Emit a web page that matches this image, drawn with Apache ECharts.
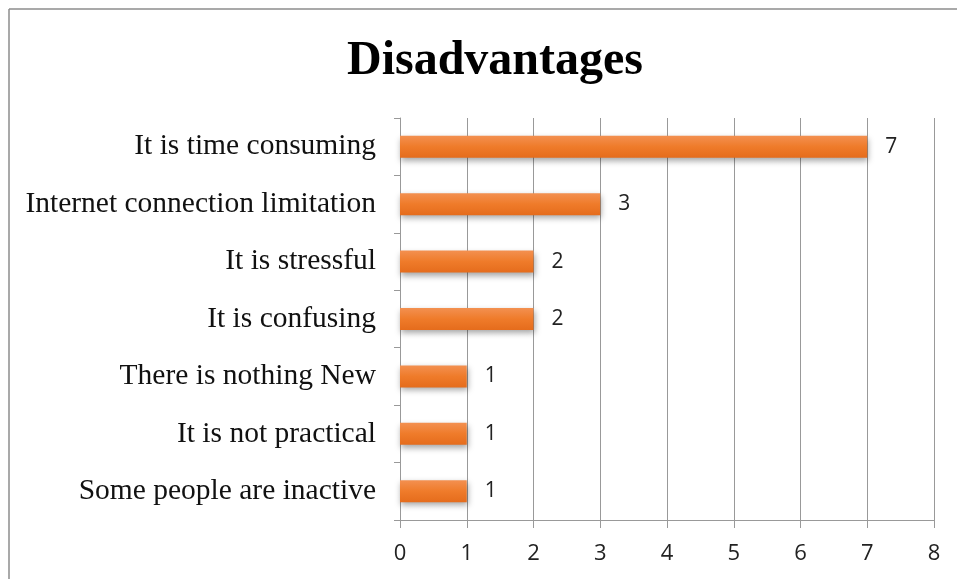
<!DOCTYPE html>
<html><head><meta charset="utf-8">
<script src="https://cdn.jsdelivr.net/npm/echarts@6/dist/echarts.min.js"></script>
<style>html,body{margin:0;padding:0;background:#fff}#c{width:957px;height:579px}</style>
</head><body><div id="c"></div>
<script>
var categories = ["Some people are inactive","It is not practical","There is nothing New","It is confusing","It is stressful","Internet connection limitation","It is time consuming"];
var values = [1,1,1,2,2,3,7];
var xTicks = [0,1,2,3,4,5,6,7,8];

var chart = echarts.init(document.getElementById('c'));
chart.setOption({
  backgroundColor:'#fff',
  animation:false,
  title:{text:'Disadvantages',left:490,textAlign:'center',top:33,
    textStyle:{fontFamily:'Liberation Serif',fontWeight:'bold',fontSize:48,color:'#000'}},
  graphic:[
    {type:'line',shape:{x1:9,y1:9,x2:957,y2:9},style:{stroke:'#8c8c8c',lineWidth:1.5}},
    {type:'line',shape:{x1:9,y1:9,x2:9,y2:579},style:{stroke:'#8c8c8c',lineWidth:1.5}}
  ],
  grid:{left:400,right:23,top:118,bottom:59},
  xAxis:{type:'value',min:xTicks[0],max:xTicks[xTicks.length-1],interval:1,
    axisLine:{show:true,lineStyle:{color:'#999'}},
    axisTick:{show:true,length:8,lineStyle:{color:'#999'}},
    splitLine:{show:true,lineStyle:{color:'#999',width:1}},
    axisLabel:{color:'#222',fontFamily:'Open Sans',fontSize:22,margin:23}},
  yAxis:{type:'category',data:categories,
    axisLine:{show:true,lineStyle:{color:'#999'}},
    axisTick:{show:true,length:6,lineStyle:{color:'#999'}},
    axisLabel:{color:'#111',fontFamily:'Liberation Serif',fontSize:29.5,margin:24}},
  series:[{type:'bar',data:values,barWidth:22,
    itemStyle:{color:new echarts.graphic.LinearGradient(0,0,0,1,[
      {offset:0,color:'#f39050'},{offset:0.5,color:'#ef7b2a'},{offset:1,color:'#e56c1c'}]),
      shadowColor:'rgba(0,0,0,0.35)',shadowBlur:6,shadowOffsetY:3,shadowOffsetX:1},
    label:{show:true,position:'right',distance:18,color:'#222',fontFamily:'Open Sans',fontSize:21}}]
});
</script></body></html>
